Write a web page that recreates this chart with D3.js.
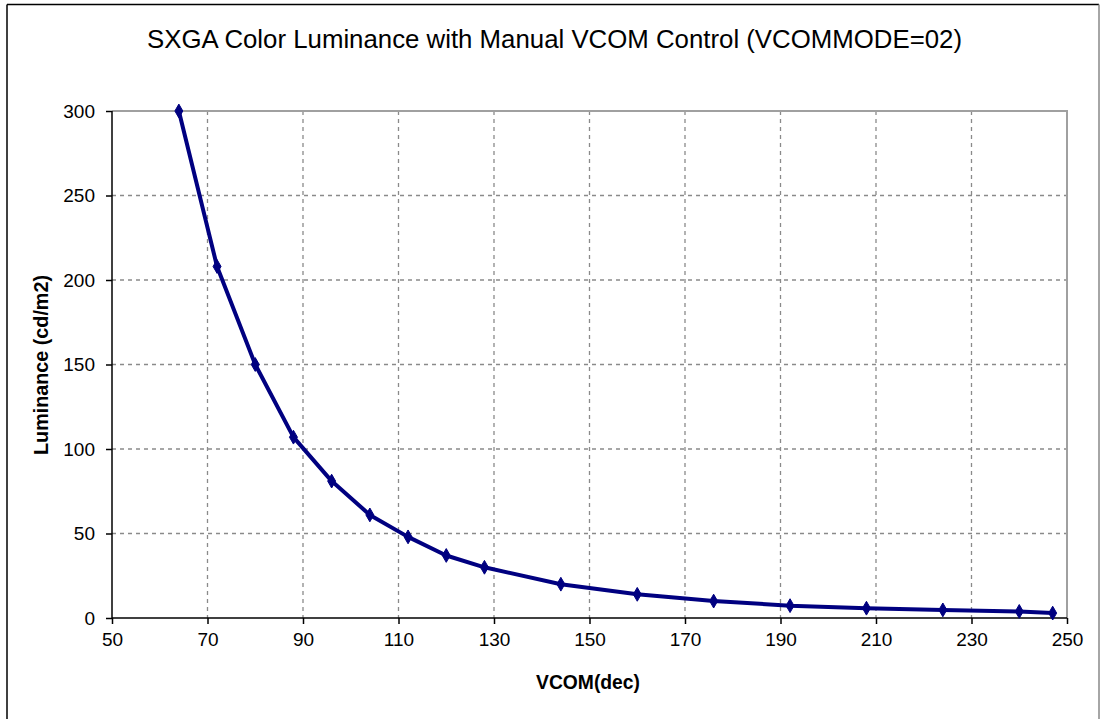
<!DOCTYPE html>
<html>
<head>
<meta charset="utf-8">
<script src="https://cdn.jsdelivr.net/npm/d3@7"></script>
<style>
  html, body { margin: 0; padding: 0; background: #fff; }
  svg { display: block; }
  text { font-family: "Liberation Sans", Arial, sans-serif; fill: #000; }
</style>
</head>
<body>
<svg id="chart" width="1100" height="719"></svg>
<script>
const titleText = "SXGA Color Luminance with Manual VCOM Control (VCOMMODE=02)";
const xTitle = "VCOM(dec)";
const yTitle = "Luminance (cd/m2)";
const vcom = [64, 72, 80, 88, 96, 104, 112, 120, 128, 144, 160, 176, 192, 208, 224, 240, 247];
const luminance = [300, 208, 150, 107, 81, 61, 48, 37, 30, 20, 14, 10, 7.3, 5.8, 4.8, 3.9, 2.9];
const xTicks = [50, 70, 90, 110, 130, 150, 170, 190, 210, 230, 250];
const yTicks = [0, 50, 100, 150, 200, 250, 300];

const svg = d3.select("#chart");
const W = 1100, H = 719;
const plot = { left: 112, right: 1067, top: 111, bottom: 618 };

function fit(sel, target) {
  const len = sel.node().getComputedTextLength();
  const fs = parseFloat(sel.attr("font-size"));
  sel.attr("font-size", (fs * target / len).toFixed(2));
}

// outer frame
svg.append("line").attr("x1", 7).attr("x2", 7).attr("y1", 4.5).attr("y2", H + 2)
  .attr("stroke", "#000").attr("stroke-width", 1.5);
svg.append("line").attr("x1", 7).attr("x2", 1099).attr("y1", 4.5).attr("y2", 4.5)
  .attr("stroke", "#000").attr("stroke-width", 1.5);
svg.append("line").attr("x1", 1099).attr("x2", 1099).attr("y1", 4.5).attr("y2", H + 2)
  .attr("stroke", "#888").attr("stroke-width", 1.5);

const x = d3.scaleLinear().domain([50, 250]).range([plot.left, plot.right]);
const y = d3.scaleLinear().domain([0, 300]).range([plot.bottom, plot.top]);

// gridlines
const grid = svg.append("g").attr("class", "grid");
grid.selectAll("line.gx").data(xTicks.filter(d => d > 50 && d < 250)).join("line")
  .attr("x1", d => x(d)).attr("x2", d => x(d))
  .attr("y1", plot.top).attr("y2", plot.bottom)
  .attr("stroke", "#8a8a8a").attr("stroke-width", 1.3).attr("stroke-dasharray", "4,4");
grid.selectAll("line.gy").data(yTicks.filter(d => d > 0 && d < 300)).join("line")
  .attr("x1", plot.left).attr("x2", plot.right)
  .attr("y1", d => y(d)).attr("y2", d => y(d))
  .attr("stroke", "#8a8a8a").attr("stroke-width", 1.3).attr("stroke-dasharray", "4,4");

// plot border top & right (gray)
svg.append("path")
  .attr("d", `M${plot.left},${plot.top}H${plot.right}V${plot.bottom}`)
  .attr("fill", "none").attr("stroke", "#a0a0a0").attr("stroke-width", 2);

// axes
const xAxis = d3.axisBottom(x).tickValues(xTicks).tickSize(6).tickPadding(9).tickFormat(d3.format("d"));
const yAxis = d3.axisLeft(y).tickValues(yTicks).tickSize(6).tickPadding(11).tickFormat(d3.format("d"));

const gx = svg.append("g").attr("transform", `translate(0,${plot.bottom})`).call(xAxis);
const gy = svg.append("g").attr("transform", `translate(${plot.left},0)`).call(yAxis);
[gx, gy].forEach(g => {
  g.select(".domain").attr("stroke", "#000").attr("stroke-width", 1.5);
  g.selectAll(".tick line").attr("stroke", "#000").attr("stroke-width", 1.5);
  g.selectAll(".tick text").attr("font-family", "'Liberation Sans', Arial, sans-serif")
    .attr("font-size", 19).attr("fill", "#000");
});
gx.select(".domain").attr("d", `M${plot.left},0H${plot.right}`);
gy.select(".domain").attr("d", `M0,${plot.bottom}V${plot.top}`);

// line
const line = d3.line().x((d, i) => x(vcom[i])).y(d => y(d));
svg.append("path").datum(luminance)
  .attr("d", line)
  .attr("fill", "none").attr("stroke", "#000080").attr("stroke-width", 4)
  .attr("stroke-linejoin", "round");

// markers
svg.selectAll("path.marker").data(luminance).join("path")
  .attr("class", "marker")
  .attr("d", d3.symbol().type(d3.symbolDiamond).size(55))
  .attr("transform", (d, i) => `translate(${x(vcom[i])},${y(d)})`)
  .attr("fill", "#000080").attr("stroke", "#000080").attr("stroke-width", 1);

// title
const t = svg.append("text").attr("x", 554.5).attr("y", 47.5)
  .attr("text-anchor", "middle").attr("font-size", 20).text(titleText);
fit(t, 815);

// axis titles
const xt = svg.append("text").attr("x", 588).attr("y", 689)
  .attr("text-anchor", "middle").attr("font-weight", "bold").attr("font-size", 18).text(xTitle);
fit(xt, 104);

const yt = svg.append("text")
  .attr("transform", `translate(48,365) rotate(-90)`)
  .attr("text-anchor", "middle").attr("font-weight", "bold").attr("font-size", 18).text(yTitle);
fit(yt, 180);
</script>
</body>
</html>
